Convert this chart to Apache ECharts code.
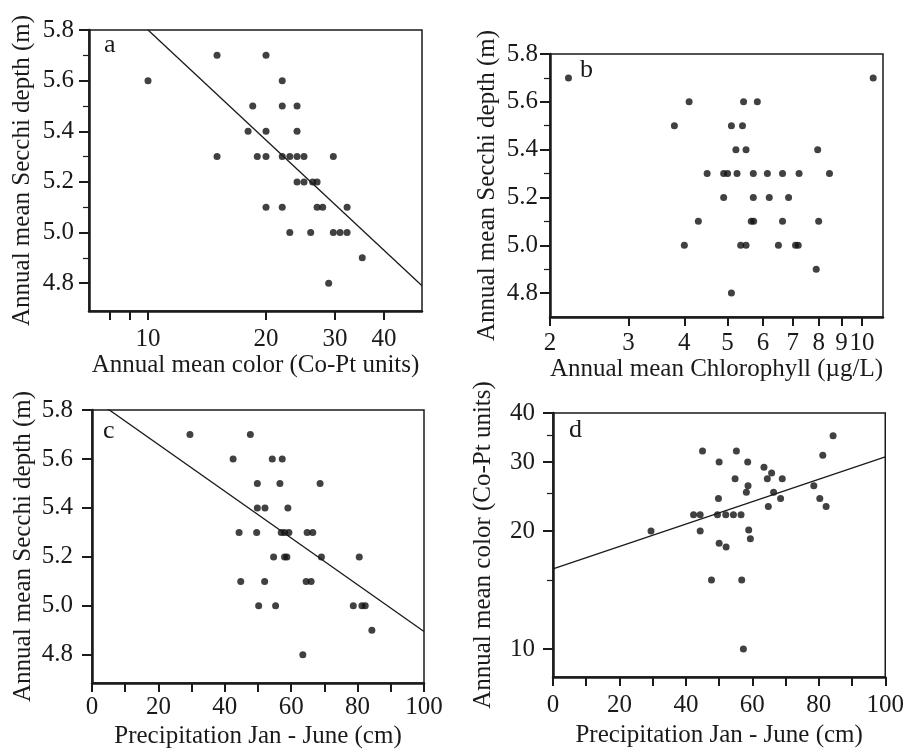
<!DOCTYPE html>
<html><head><meta charset="utf-8">
<script src="https://cdn.jsdelivr.net/npm/echarts@6/dist/echarts.min.js"></script>
<style>html,body{margin:0;padding:0;background:#fff}#c{width:907px;height:752px}</style>
</head><body><div id="c"></div>
<script>
// ---------- data ----------
// Panel a: annual mean color (Co-Pt units) vs Secchi depth (m)
const aColor  = [15,20, 10,22, 18.5,22,24, 18,20,24, 15,19,20,22,23,24,25,29.7, 24,25,26.3,27, 20,22,27,27.9,32.2, 23,26,29.7,30.9,32.2, 35.2, 28.9];
const aSecchi = [5.7,5.7, 5.6,5.6, 5.5,5.5,5.5, 5.4,5.4,5.4, 5.3,5.3,5.3,5.3,5.3,5.3,5.3,5.3, 5.2,5.2,5.2,5.2, 5.1,5.1,5.1,5.1,5.1, 5.0,5.0,5.0,5.0,5.0, 4.9, 4.8];
const aLineX = [10, 50];
const aLineY = [5.8, 4.79];

// Panel b: annual mean chlorophyll (ug/L) vs Secchi depth (m)
const bChl    = [2.2,10.6, 4.1,5.43,5.83, 3.8,5.1,5.4, 5.22,5.5,7.96, 4.5,4.9,5.0,5.25,5.71,6.14,6.64,7.23,8.46, 4.9,5.71,6.2,6.85, 4.3,5.65,5.72,6.64,8.0, 4.0,5.35,5.5,6.5,7.1,7.2, 7.9, 5.1];
const bSecchi = [5.7,5.7, 5.6,5.6,5.6, 5.5,5.5,5.5, 5.4,5.4,5.4, 5.3,5.3,5.3,5.3,5.3,5.3,5.3,5.3,5.3, 5.2,5.2,5.2,5.2, 5.1,5.1,5.1,5.1,5.1, 5.0,5.0,5.0,5.0,5.0,5.0, 4.9, 4.8];

// Panel c: precipitation Jan-June (cm) vs Secchi depth (m)
const cPrecip = [29.5,47.7, 42.5,54.3,57.3, 49.8,56.6,68.7, 49.8,52.1,59, 44.3,49.6,57,58,59.3,64.8,66.5, 54.7,58,58.7,69.1,80.5, 44.8,52,64.5,66, 50.2,55.3,78.7,81.3,82.3, 84.3, 63.5];
const cSecchi = [5.7,5.7, 5.6,5.6,5.6, 5.5,5.5,5.5, 5.4,5.4,5.4, 5.3,5.3,5.3,5.3,5.3,5.3,5.3, 5.2,5.2,5.2,5.2,5.2, 5.1,5.1,5.1,5.1, 5.0,5.0,5.0,5.0,5.0, 4.9, 4.8];
const cLineX = [0, 100];
const cLineY = [5.85, 4.895];

// Panel d: precipitation Jan-June (cm) vs annual mean color (Co-Pt units)
const dPrecip = [45,55.2,50,54.8,49.8,42.3,44.3,49.5,52,54.3,56.6,29.5,44.3,50,52.1,47.7,84.3,81.2,58.6,63.5,65.8,64.5,69,58.7,58.2,66.4,78.5,68.5,80.3,64.8,82.2,58.9,59.4,56.8,57.3];
const dColor  = [32,32,30,27.2,24.2,22,22,22,22,22,22,20,20,18.6,18.2,15,35,31.2,30,29.1,28.1,27.2,27.2,26.1,25.1,25.1,26.1,24.2,24.2,23.1,23.1,20.1,19.1,15,10];
const dLineX = [0, 100];
const dLineY = [16.0, 30.9];

// tick labels
const secchiMajor = [4.8,5.0,5.2,5.4,5.6,5.8];
const secchiMinor = [4.9,5.1,5.3,5.5,5.7];
const aXTicks = [8,9,10,20,30,40];
const aXLabels = [10,20,30,40];
const bXTicks = [2,3,4,5,6,7,8,9,10];
const precipTicks = [0,10,20,30,40,50,60,70,80,90,100];
const precipLabels = [0,20,40,60,80,100];
const dYMajor = [10,20,30,40];
const dYMinor = [15,25,35];

// ---------- chart ----------
const FONT = 'Liberation Serif';
const INK = '#1a1a1a';
const FS = 25;
const lbl = {fontFamily: FONT, fontSize: FS, color: INK};
const nameStyle = {fontFamily: FONT, fontSize: FS, color: INK};

function grid(left, top, width, height) {
  return {left, top, width, height, show: true, borderColor: INK, borderWidth: 1.5, backgroundColor: 'transparent', containLabel: false};
}
const grids = [
  grid(89, 30, 333, 281),
  grid(550, 54, 333, 263),
  grid(92, 410, 332, 273),
  grid(553, 413, 333, 264)
];

function tick(vals, len, w) {
  return {show: true, inside: false, length: len, customValues: vals, lineStyle: {color: INK, width: w}};
}
function majorAxis(o) {
  return Object.assign({
    axisLine: {show: true, onZero: false, lineStyle: {color: INK, width: 2.5}},
    splitLine: {show: false},
    nameTextStyle: nameStyle,
    nameLocation: 'middle'
  }, o);
}
function minorAxis(o) {
  return Object.assign({
    position: 'left',
    axisLine: {show: false},
    axisLabel: {show: false},
    splitLine: {show: false}
  }, o);
}
const pairs = (xs, ys) => xs.map((x, i) => [x, ys[i]]);
const f1 = v => v.toFixed(1);

const xAxes = [
  majorAxis({gridIndex: 0, type: 'log', min: 7.07, max: 50, name: 'Annual mean color (Co-Pt units)', nameGap: 42,
    axisTick: tick(aXTicks, 9, 2), axisLabel: Object.assign({margin: 16, customValues: aXLabels}, lbl)}),
  majorAxis({gridIndex: 1, type: 'log', min: 2, max: 11.15, name: 'Annual mean Chlorophyll (\u00b5g/L)', nameGap: 33,
    axisTick: tick(bXTicks, 9, 2), axisLabel: Object.assign({margin: 14, customValues: bXTicks}, lbl)}),
  majorAxis({gridIndex: 2, type: 'value', min: 0, max: 100, name: 'Precipitation Jan - June (cm)', nameGap: 41,
    axisTick: tick(precipTicks, 9, 2), axisLabel: Object.assign({margin: 12, customValues: precipLabels}, lbl)}),
  majorAxis({gridIndex: 3, type: 'value', min: 0, max: 100, name: 'Precipitation Jan - June (cm)', nameGap: 46,
    axisTick: tick(precipTicks, 9, 2), axisLabel: Object.assign({margin: 16, customValues: precipLabels}, lbl)})
];
const yAxes = [
  majorAxis({gridIndex: 0, type: 'value', min: 4.69, max: 5.8, name: 'Annual mean Secchi depth (m)', nameGap: 54,
    axisTick: tick(secchiMajor, 10, 2), axisLabel: Object.assign({margin: 15, customValues: secchiMajor, formatter: f1}, lbl)}),
  majorAxis({gridIndex: 1, type: 'value', min: 4.7, max: 5.8, name: 'Annual mean Secchi depth (m)', nameGap: 50,
    axisTick: tick(secchiMajor, 10, 2), axisLabel: Object.assign({margin: 12, customValues: secchiMajor, formatter: f1}, lbl)}),
  majorAxis({gridIndex: 2, type: 'value', min: 4.685, max: 5.8, name: 'Annual mean Secchi depth (m)', nameGap: 56,
    axisTick: tick(secchiMajor, 10, 2), axisLabel: Object.assign({margin: 19, customValues: secchiMajor, formatter: f1}, lbl)}),
  majorAxis({gridIndex: 3, type: 'log', min: 8.48, max: 40, name: 'Annual mean color (Co-Pt units)', nameGap: 57,
    axisTick: tick(dYMajor, 10, 2), axisLabel: Object.assign({margin: 18, customValues: dYMajor}, lbl)}),
  // minor tick overlays
  minorAxis({gridIndex: 0, type: 'value', min: 4.69, max: 5.8, axisTick: tick(secchiMinor, 6, 1.2)}),
  minorAxis({gridIndex: 1, type: 'value', min: 4.7, max: 5.8, axisTick: tick(secchiMinor, 6, 1.2)}),
  minorAxis({gridIndex: 3, type: 'log', min: 8.48, max: 40, axisTick: tick(dYMinor, 6, 1.2)})
];

const dot = {type: 'scatter', symbol: 'circle', symbolSize: 7, itemStyle: {color: '#111'}, silent: true, animation: false};
const reg = {type: 'line', symbol: 'none', lineStyle: {color: INK, width: 1.3}, silent: true, animation: false, clip: true};

const option = {
  animation: false,
  backgroundColor: '#fff',
  grid: grids,
  xAxis: xAxes,
  yAxis: yAxes,
  series: [
    Object.assign({}, dot, {xAxisIndex: 0, yAxisIndex: 0, data: pairs(aColor, aSecchi)}),
    Object.assign({}, dot, {xAxisIndex: 1, yAxisIndex: 1, data: pairs(bChl, bSecchi)}),
    Object.assign({}, dot, {xAxisIndex: 2, yAxisIndex: 2, data: pairs(cPrecip, cSecchi)}),
    Object.assign({}, dot, {xAxisIndex: 3, yAxisIndex: 3, data: pairs(dPrecip, dColor)}),
    Object.assign({}, reg, {xAxisIndex: 0, yAxisIndex: 0, data: pairs(aLineX, aLineY)}),
    Object.assign({}, reg, {xAxisIndex: 2, yAxisIndex: 2, data: pairs(cLineX, cLineY)}),
    Object.assign({}, reg, {xAxisIndex: 3, yAxisIndex: 3, data: pairs(dLineX, dLineY)})
  ],
  graphic: [
    {type: 'text', left: 104, top: 32, style: {text: 'a', font: '26px "Liberation Serif"', fill: INK}},
    {type: 'text', left: 580, top: 57, style: {text: 'b', font: '26px "Liberation Serif"', fill: INK}},
    {type: 'text', left: 103, top: 418, style: {text: 'c', font: '26px "Liberation Serif"', fill: INK}},
    {type: 'text', left: 569, top: 417, style: {text: 'd', font: '26px "Liberation Serif"', fill: INK}}
  ]
};
const chart = echarts.init(document.getElementById('c'), null, {renderer: 'canvas'});
chart.setOption(option);
</script>
</body></html>
